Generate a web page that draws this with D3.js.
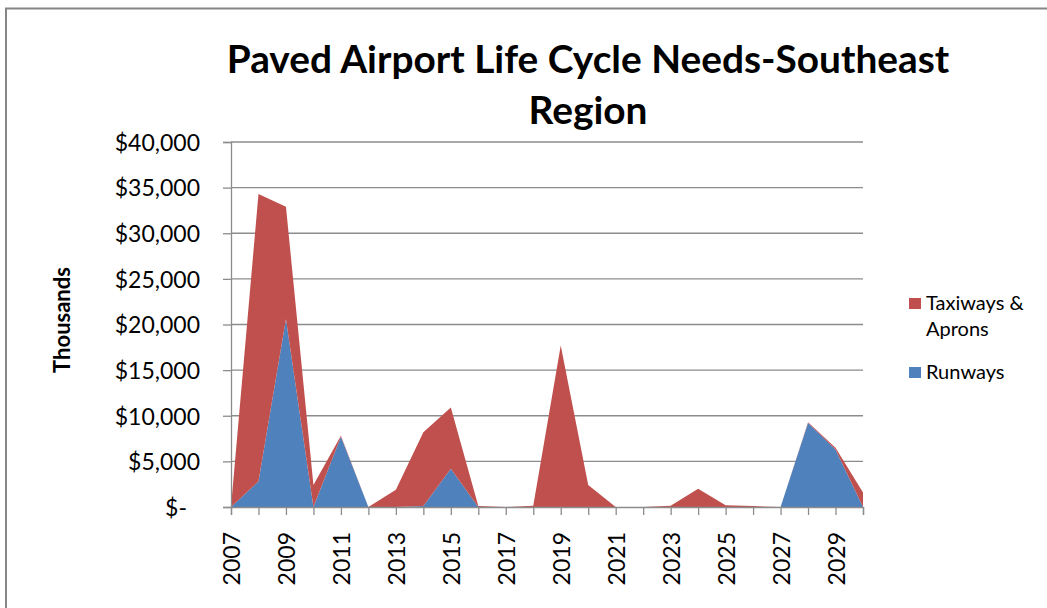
<!DOCTYPE html>
<html>
<head>
<meta charset="utf-8">
<script src="https://cdn.jsdelivr.net/npm/d3@7/dist/d3.min.js"></script>
<style>
  html, body { margin: 0; padding: 0; background: #fff; }
  svg { display: block; }
  text { font-family: Lato, "Open Sans", sans-serif; fill: #000; }
</style>
</head>
<body>
<svg id="chart" width="1047" height="608"></svg>
<script>
// ---- data ----
const years = [2007, 2008, 2009, 2010, 2011, 2012, 2013, 2014, 2015, 2016, 2017, 2018,
               2019, 2020, 2021, 2022, 2023, 2024, 2025, 2026, 2027, 2028, 2029, 2030];
const runways = [0, 2800, 20600, 0, 7700, 0, 0, 100, 4200, 0, 0, 0,
                 0, 0, 0, 0, 0, 0, 0, 0, 0, 9200, 6300, 0];
const taxiwaysAprons = [0, 31500, 12300, 2400, 100, 0, 1900, 8100, 6700, 100, 0, 150,
                        17700, 2400, 0, 0, 150, 2000, 200, 100, 0, 100, 200, 1600];
const yTicks = [0, 5000, 10000, 15000, 20000, 25000, 30000, 35000, 40000];
const xLabelYears = [2007, 2009, 2011, 2013, 2015, 2017, 2019, 2021, 2023, 2025, 2027, 2029];
const seriesNames = ["Runways", "Taxiways & Aprons"];
const seriesColors = ["#4F81BD", "#C0504D"];
const titleLines = ["Paved Airport Life Cycle Needs-Southeast", "Region"];
const yAxisTitle = "Thousands";

// ---- layout ----
const svg = d3.select("#chart");
const plot = { left: 231, right: 863, top: 142, bottom: 507 };
const gridColor = "#8c8c8c";

// chart border
svg.append("rect")
  .attr("x", 6).attr("y", 8.5)
  .attr("width", 1100).attr("height", 700)
  .attr("fill", "#fff")
  .attr("stroke", "#868686").attr("stroke-width", 2);

const x = d3.scaleLinear().domain([years[0], years[years.length - 1]]).range([plot.left, plot.right]);
const y = d3.scaleLinear().domain([0, 40000]).range([plot.bottom, plot.top]);

// gridlines
svg.append("g").selectAll("line").data(yTicks.filter(d => d > 0)).join("line")
  .attr("x1", plot.left).attr("x2", plot.right)
  .attr("y1", d => y(d)).attr("y2", d => y(d))
  .attr("stroke", gridColor).attr("stroke-width", 1.3);

// stacked areas
const rows = years.map((yr, i) => ({ year: yr, "Runways": runways[i], "Taxiways & Aprons": taxiwaysAprons[i] }));
const stack = d3.stack().keys(seriesNames);
const layers = stack(rows);
const area = d3.area()
  .x(d => x(d.data.year))
  .y0(d => y(d[0]))
  .y1(d => y(d[1]));
svg.append("g").selectAll("path").data(layers).join("path")
  .attr("d", area)
  .attr("fill", (d, i) => seriesColors[i]);

// y axis
const yAxis = d3.axisLeft(y).tickValues(yTicks).tickSize(8).tickPadding(23)
  .tickFormat(d => d === 0 ? "$-" : "$" + d3.format(",")(d));
const gy = svg.append("g").attr("transform", `translate(${plot.left},0)`).call(yAxis);
gy.select(".domain").attr("stroke", gridColor).attr("stroke-width", 1.3);
gy.selectAll(".tick line").attr("stroke", gridColor).attr("stroke-width", 1.3);
gy.selectAll(".tick text")
  .style("font-size", "23px").attr("fill", "#000")
  .attr("dy", "0.36em")
  .filter(d => d === 0).attr("dx", -13);

// x axis
const xAxis = d3.axisBottom(x).tickValues(years).tickSize(8)
  .tickFormat(d => xLabelYears.includes(d) ? String(d) : "");
const gx = svg.append("g").attr("transform", `translate(0,${plot.bottom})`).call(xAxis);
gx.select(".domain").attr("stroke", gridColor).attr("stroke-width", 1.3);
gx.selectAll(".tick line").attr("stroke", gridColor).attr("stroke-width", 1.3);
gx.selectAll(".tick text")
  .style("font-size", "23px").attr("fill", "#000")
  .attr("transform", "rotate(-90)")
  .attr("text-anchor", "end")
  .attr("x", -25).attr("y", 0).attr("dy", "0.38em");

// y axis title
svg.append("text")
  .attr("transform", "translate(70,320) rotate(-90)")
  .attr("text-anchor", "middle")
  .style("font-size", "22px").style("font-weight", "bold")
  .text(yAxisTitle);

// title (fit line 1 to reference width)
const t1 = svg.append("text")
  .attr("x", 588).attr("y", 73)
  .attr("text-anchor", "middle")
  .style("font-size", "36px").style("font-weight", "bold")
  .text(titleLines[0]);
const w1 = t1.node().getComputedTextLength();
const titleSize = 36 * 723 / w1;
t1.style("font-size", titleSize + "px");
svg.append("text")
  .attr("x", 588).attr("y", 124)
  .attr("text-anchor", "middle")
  .style("font-size", titleSize + "px").style("font-weight", "bold")
  .text(titleLines[1]);

// legend (reverse order like stacked chart legend)
const legend = svg.append("g");
const legendItems = [
  { color: seriesColors[1], lines: ["Taxiways &", "Aprons"], y: 298 },
  { color: seriesColors[0], lines: ["Runways"], y: 367 }
];
legendItems.forEach(item => {
  legend.append("rect").attr("x", 909).attr("y", item.y)
    .attr("width", 12).attr("height", 11).attr("fill", item.color);
  item.lines.forEach((ln, j) => {
    legend.append("text").attr("x", 926).attr("y", item.y + 12 + j * 26)
      .style("font-size", "20px").text(ln);
  });
});
</script>
</body>
</html>
